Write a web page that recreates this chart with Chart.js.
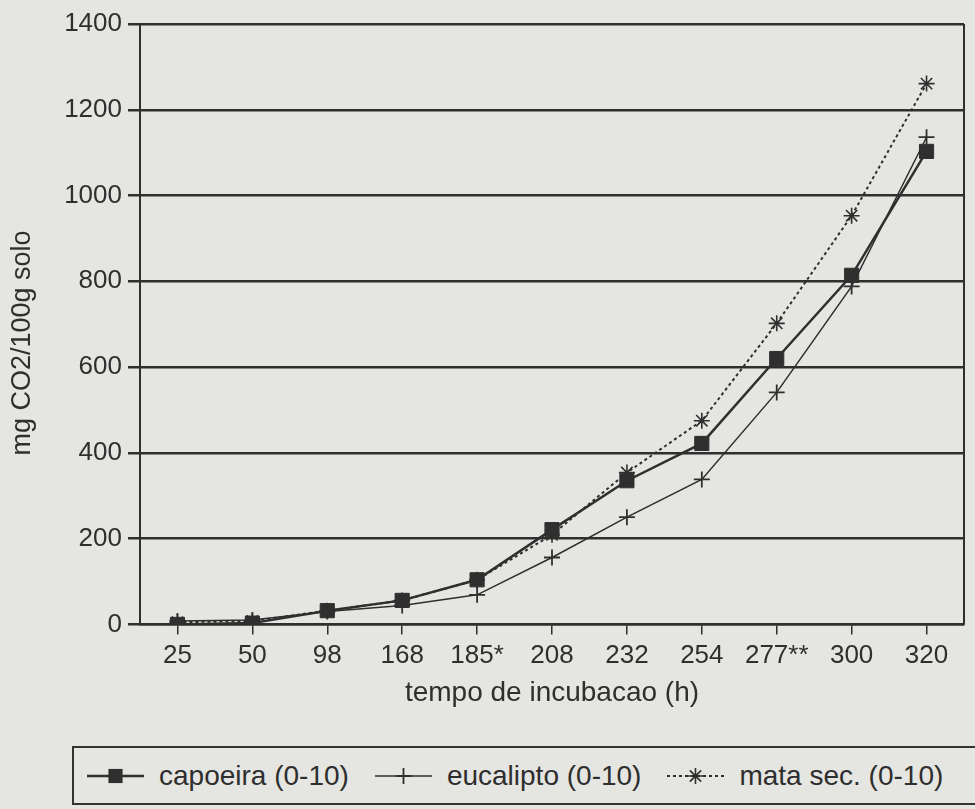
<!DOCTYPE html>
<html>
<head>
<meta charset="utf-8">
<script src="https://cdn.jsdelivr.net/npm/chart.js@4.4.1/dist/chart.umd.min.js"></script>
<style>
  body { margin: 0; background: #e5e5e2; width: 975px; height: 809px; overflow: hidden; position: relative;
         font-family: "Liberation Sans", Arial, Helvetica, sans-serif; color: #2e2e2e; }
  #wrap { position: absolute; left: 0; top: 0; width: 975px; height: 720px; }
  #legend { position: absolute; left: 72px; top: 746px; width: 940px; height: 55px;
            border: 2px solid #333; display: flex; align-items: center; padding-left: 13px; }
  .item { display: flex; align-items: center; margin-right: 26px; font-size: 28px; white-space: nowrap; }
  .item canvas { margin-right: 15px; }
</style>
</head>
<body>
<div id="wrap"><canvas id="chart"></canvas></div>
<div id="legend"></div>
<script>
// tempo de incubacao (h)
var hours = ['25', '50', '98', '168', '185*', '208', '232', '254', '277**', '300', '320'];
// mg CO2/100g solo
var capoeira  = [0, 3, 32, 56, 104, 221, 335, 422, 620, 814, 1103];
var eucalipto = [8, 10, 30, 44, 69, 156, 250, 338, 541, 788, 1136];
var mataSec   = [5, 8, 32, 56, 104, 209, 354, 475, 702, 953, 1261];
var yTicks = [0, 200, 400, 600, 800, 1000, 1200, 1400];

var ink = '#2f2f2f';
var fontFamily = '"Liberation Sans", Arial, Helvetica, sans-serif';

// right border of the plot
var frame = {
    id: 'frame',
    afterDraw: function (chart) {
        var ctx = chart.ctx, a = chart.chartArea;
        ctx.save();
        ctx.strokeStyle = ink;
        ctx.lineWidth = 2;
        ctx.beginPath();
        ctx.moveTo(a.right, a.top);
        ctx.lineTo(a.right, a.bottom);
        ctx.stroke();
        ctx.restore();
    }
};

// legend as html, built from the datasets
function drawMarker(cv, ds) {
    var c = cv.getContext('2d');
    var w = cv.width, h = cv.height, cx = w / 2, cy = h / 2;
    c.strokeStyle = ink;
    c.fillStyle = ink;
    c.lineWidth = ds.borderWidth;
    c.setLineDash(ds.borderDash || []);
    c.beginPath(); c.moveTo(0, cy); c.lineTo(w, cy); c.stroke();
    c.setLineDash([]);
    var r = ds.pointRadius;
    c.lineWidth = ds.pointBorderWidth;
    if (ds.pointStyle == 'rect') {
        var s = r * Math.SQRT1_2;
        c.fillRect(cx - s, cy - s, 2 * s, 2 * s);
    } else {
        c.beginPath();
        c.moveTo(cx - r, cy); c.lineTo(cx + r, cy);
        c.moveTo(cx, cy - r); c.lineTo(cx, cy + r);
        if (ds.pointStyle == 'star') {
            var d = r * Math.SQRT1_2;
            c.moveTo(cx - d, cy - d); c.lineTo(cx + d, cy + d);
            c.moveTo(cx - d, cy + d); c.lineTo(cx + d, cy - d);
        }
        c.stroke();
    }
}

var htmlLegend = {
    id: 'htmlLegend',
    afterUpdate: function (chart) {
        var box = document.getElementById('legend');
        box.innerHTML = '';
        chart.data.datasets.forEach(function (ds) {
            var item = document.createElement('div');
            item.className = 'item';
            var cv = document.createElement('canvas');
            cv.width = 57; cv.height = 22;
            drawMarker(cv, ds);
            var txt = document.createElement('span');
            txt.textContent = ds.label;
            item.appendChild(cv);
            item.appendChild(txt);
            box.appendChild(item);
        });
    }
};

new Chart(document.getElementById('chart'), {
    type: 'line',
    data: {
        labels: hours,
        datasets: [{
            label: 'capoeira (0-10)', data: capoeira,
            borderColor: ink, backgroundColor: ink, borderWidth: 2.5,
            pointStyle: 'rect', pointRadius: 10, pointBorderWidth: 1,
            pointBackgroundColor: ink, pointBorderColor: ink
        }, {
            label: 'eucalipto (0-10)', data: eucalipto,
            borderColor: ink, backgroundColor: ink, borderWidth: 1.5,
            pointStyle: 'cross', pointRadius: 8, pointBorderWidth: 1.8,
            pointBorderColor: ink
        }, {
            label: 'mata sec. (0-10)', data: mataSec,
            borderColor: ink, backgroundColor: ink, borderWidth: 2, borderDash: [3, 3],
            pointStyle: 'star', pointRadius: 8, pointBorderWidth: 1.6,
            pointBorderColor: ink
        }]
    },
    options: {
        responsive: true,
        maintainAspectRatio: false,
        animation: false,
        layout: { padding: { top: 24, right: 2, bottom: 10, left: 0 } },
        plugins: {
            legend: { display: false },
            tooltip: { enabled: false }
        },
        scales: {
            x: {
                offset: true,
                grid: { drawOnChartArea: false, drawTicks: true, tickLength: 10, color: ink, lineWidth: 1.5 },
                border: { color: ink, width: 2.5 },
                ticks: { color: ink, padding: 8, maxRotation: 0, autoSkip: false,
                         font: { family: fontFamily, size: 26, lineHeight: 1 } },
                title: { display: true, text: 'tempo de incubacao (h)', color: ink,
                         padding: { top: 0, bottom: 0 }, font: { family: fontFamily, size: 28 } }
            },
            y: {
                min: 0, max: 1400,
                afterBuildTicks: function (scale) {
                    scale.ticks = yTicks.map(function (v) { return { value: v }; });
                },
                afterFit: function (scale) { scale.width = 140; },
                grid: { color: ink, lineWidth: 2.5, tickLength: 12 },
                border: { color: ink, width: 2 },
                ticks: { color: ink, padding: 6, font: { family: fontFamily, size: 26 },
                         callback: function (v) { return String(v); } },
                title: { display: true, text: 'mg CO2/100g solo\u00a0\u00a0\u00a0\u00a0\u00a0', color: ink,
                         padding: { top: 6, bottom: 0 }, font: { family: fontFamily, size: 27 } }
            }
        }
    },
    plugins: [frame, htmlLegend]
});
</script>
</body>
</html>
